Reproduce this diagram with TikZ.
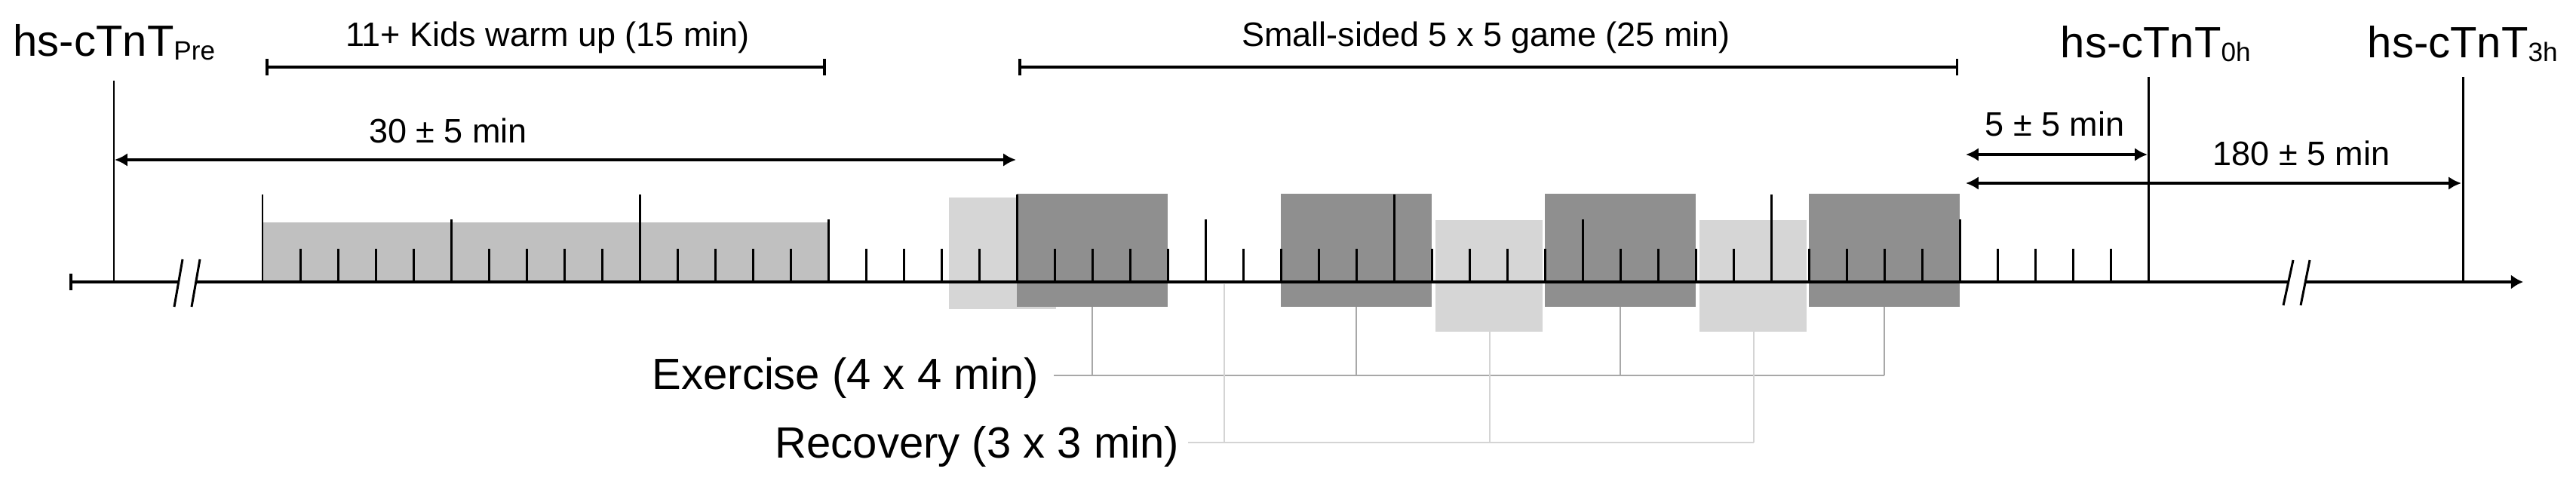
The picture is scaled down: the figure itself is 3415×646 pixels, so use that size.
\documentclass[tikz,border=0pt]{standalone}
\usepackage{fontspec}
\setmainfont{Liberation Sans}
\usetikzlibrary{arrows.meta}
\definecolor{warmfill}{HTML}{C0C0C0}
\definecolor{exfill}{HTML}{8F8F8F}
\definecolor{recfill}{HTML}{D6D6D6}
\definecolor{exline}{HTML}{A8A8A8}
\definecolor{recline}{HTML}{D4D4D4}
\newcommand\subtxt[1]{\raisebox{-1.2pt}{\fontsize{10}{11}\selectfont #1}}
\begin{document}
\begin{tikzpicture}[x=0.01cm,y=-0.01cm,
  big/.style={font=\fontsize{16.5}{18}\selectfont, inner sep=0pt},
  small/.style={font=\fontsize{12.8}{14}\selectfont, inner sep=0pt},
  axisline/.style={line width=1pt, black},
  tickline/.style={line width=0.85pt, black},
  dimarrow/.style={line width=1pt, {Latex[length=4.8pt,width=5pt]}-{Latex[length=4.8pt,width=5pt]}},
  bracket/.style={line width=1pt, {Bar[width=6pt]}-{Bar[width=6pt]}},
  exconn/.style={line width=0.7pt, exline},
  recconn/.style={line width=0.7pt, recline}
]
\useasboundingbox (0,0) rectangle (3415,646);

% ---- boxes
\fill[warmfill] (348,295) rectangle (1098,374);
\fill[recfill] (1258,262) rectangle (1400,410);
\foreach \s in {20,27,34,41}
  \fill[exfill] ({348+50*\s},257) rectangle ({348+50*(\s+4)},407);
\foreach \s in {31,38}
  \fill[recfill] ({348+50*\s+5},292) rectangle ({348+50*(\s+3)-3},440);

% ---- connectors exercise / recovery
\foreach \x in {1448,1798,2148,2498} {
  \coordinate (etop) at (\x,407);
  \coordinate (ebot) at (\x,498);
  \draw[exconn] (etop) -- (ebot);
}
\coordinate (exL) at (1397,498);
\coordinate (exR) at (2498,498);
\draw[exconn] (exL) -- (exR);
\coordinate (r1t) at (1623,377);
\coordinate (r2t) at (1975,440);
\coordinate (r3t) at (2325,440);
\coordinate (r1b) at (1623,587);
\coordinate (r2b) at (1975,587);
\coordinate (r3b) at (2325,587);
\draw[recconn] (r1t) -- (r1b);
\draw[recconn] (r2t) -- (r2b);
\draw[recconn] (r3t) -- (r3b);
\coordinate (recL) at (1575,587);
\draw[recconn] (recL) -- (r3b);

% ---- ticks
\foreach \t in {0,...,49} {
  \pgfmathsetmacro\h{ifthenelse(mod(\t,10)==0,258,ifthenelse(mod(\t,5)==0,291,330))}
  \draw[tickline] ({348+50*\t},374) -- ({348+50*\t},\h);
}

% ---- axis
\coordinate (axL) at (92,374);
\coordinate (brk1a) at (237,374);
\coordinate (brk1b) at (260,374);
\coordinate (brk2a) at (3034,374);
\coordinate (brk2b) at (3057,374);
\coordinate (axR) at (3345,374);
\draw[axisline, {Bar[width=6pt]}-] (axL) -- (brk1a);
\draw[axisline] (brk1b) -- (brk2a);
\draw[axisline, -{Latex[length=4.6pt,width=5.5pt]}] (brk2b) -- (axR);
\draw[tickline] (231,407) -- (242,344);
\draw[tickline] (254,407) -- (265,344);
\draw[tickline] (3027,405) -- (3040,345);
\draw[tickline] (3050,405) -- (3062,345);

% ---- sampling lines and labels
\node[big, anchor=base west] (pre) at (17,75) {hs-cTnT\subtxt{Pre}};
\node[big, anchor=base west] (zero) at (2731,77) {hs-cTnT\subtxt{0h}};
\node[big, anchor=base west] (three) at (3138,77) {hs-cTnT\subtxt{3h}};
\coordinate (preT) at (151,107);
\coordinate (preB) at (151,374);
\coordinate (zeroT) at (2848,102);
\coordinate (zeroB) at (2848,374);
\coordinate (threeT) at (3265,102);
\coordinate (threeB) at (3265,374);
\draw[tickline] (preT) -- (preB);
\draw[tickline] (zeroT) -- (zeroB);
\draw[tickline] (threeT) -- (threeB);

% ---- brackets
\node[small, anchor=base] (warm) at (726,62) {11+ Kids warm up (15 min)};
\node[small, anchor=base] (game) at (1970,62) {Small-sided 5 x 5 game (25 min)};
\coordinate (wL) at (352,89);
\coordinate (wR) at (1095,89);
\coordinate (gL) at (1350,89);
\coordinate (gR) at (2596,89);
\draw[bracket] (wL) -- (wR);
\draw[bracket] (gL) -- (gR);

% ---- dimension arrows
\node[small, anchor=base] (d30) at (594,190) {30 ± 5 min};
\coordinate (a30L) at (152,212);
\coordinate (a30R) at (1347,212);
\draw[dimarrow] (a30L) -- (a30R);
\node[small, anchor=base] (d5) at (2724,181) {5 ± 5 min};
\coordinate (a5L) at (2606,205);
\coordinate (a5R) at (2847,205);
\draw[dimarrow] (a5L) -- (a5R);
\node[small, anchor=base] (d180) at (3051,220) {180 ± 5 min};
\coordinate (a180L) at (2606,243);
\coordinate (a180R) at (3263,243);
\draw[dimarrow] (a180L) -- (a180R);

% ---- legend texts
\node[big, anchor=base west] (ex) at (864,517) {Exercise (4 x 4 min)};
\node[big, anchor=base west] (rec) at (1027,607) {Recovery (3 x 3 min)};
\end{tikzpicture}
\end{document}
